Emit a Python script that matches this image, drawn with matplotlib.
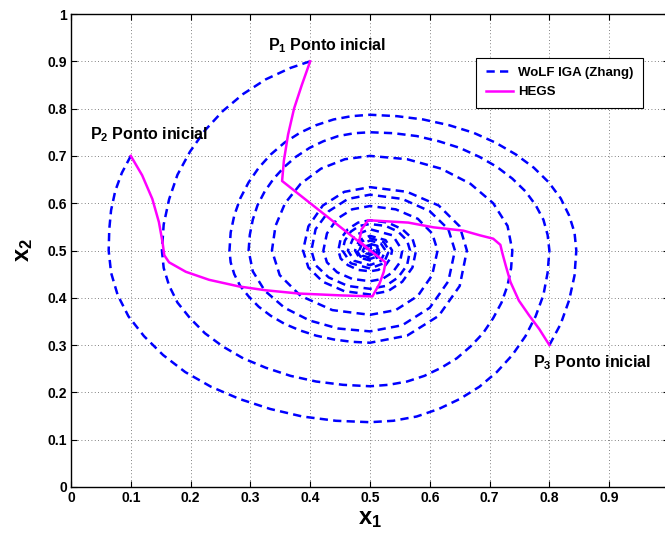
import matplotlib

matplotlib.use("Agg")  # Non-interactive backend
import matplotlib.pyplot as plt
import numpy as np

plt.rcParams["font.family"] = ["Liberation Sans", "DejaVu Sans"]
plt.rcParams["font.weight"] = "bold"
plt.rcParams["axes.labelweight"] = "bold"
plt.rcParams["mathtext.fontset"] = "custom"
plt.rcParams["mathtext.rm"] = "Liberation Sans:bold"
plt.rcParams["mathtext.it"] = "Liberation Sans:bold"
plt.rcParams["mathtext.bf"] = "Liberation Sans:bold"
plt.rcParams["mathtext.default"] = "regular"

# WoLF IGA trajectories (x1, x2)
wolf_p1 = [
    (0.400, 0.900), (0.367, 0.886), (0.326, 0.862), (0.288, 0.831), (0.254, 0.795), (0.224, 0.754),
    (0.199, 0.709), (0.178, 0.660), (0.164, 0.608), (0.155, 0.555), (0.152, 0.500),
    (0.155, 0.463), (0.164, 0.426), (0.178, 0.390), (0.199, 0.357), (0.224, 0.325), (0.254, 0.297),
    (0.288, 0.272), (0.326, 0.252), (0.367, 0.235), (0.410, 0.223), (0.455, 0.216), (0.500, 0.213),
    (0.531, 0.216), (0.562, 0.223), (0.591, 0.235), (0.619, 0.252), (0.645, 0.272), (0.668, 0.297),
    (0.689, 0.325), (0.706, 0.357), (0.720, 0.390), (0.730, 0.426), (0.736, 0.463), (0.738, 0.500),
    (0.730, 0.552), (0.706, 0.600), (0.668, 0.641), (0.619, 0.673), (0.562, 0.693), (0.500, 0.700),
    (0.458, 0.693), (0.418, 0.673), (0.384, 0.641), (0.358, 0.600), (0.342, 0.552), (0.336, 0.500),
    (0.349, 0.448), (0.384, 0.404), (0.437, 0.374), (0.500, 0.364),
    (0.543, 0.374), (0.580, 0.404), (0.604, 0.448), (0.613, 0.500),
    (0.604, 0.536), (0.580, 0.567), (0.543, 0.587), (0.500, 0.594),
    (0.470, 0.587), (0.445, 0.567), (0.428, 0.536), (0.422, 0.500),
    (0.428, 0.475), (0.445, 0.454), (0.470, 0.440), (0.500, 0.435),
    (0.521, 0.440), (0.538, 0.454), (0.550, 0.475), (0.554, 0.500),
    (0.538, 0.532), (0.500, 0.545), (0.474, 0.532), (0.463, 0.500),
    (0.474, 0.478), (0.500, 0.469), (0.518, 0.478), (0.526, 0.500),
    (0.518, 0.515), (0.500, 0.521), (0.487, 0.515), (0.482, 0.500),
    (0.487, 0.489), (0.500, 0.485), (0.509, 0.489), (0.512, 0.500),
    (0.509, 0.507), (0.500, 0.510), (0.494, 0.507), (0.492, 0.500),
    (0.494, 0.495), (0.500, 0.493), (0.504, 0.495), (0.506, 0.500), (0.500, 0.505),
]
wolf_p2 = [
    (0.100, 0.700), (0.085, 0.664), (0.074, 0.626), (0.067, 0.585), (0.064, 0.545), (0.063, 0.500),
    (0.067, 0.453), (0.078, 0.406), (0.096, 0.361), (0.122, 0.319), (0.154, 0.279), (0.191, 0.243),
    (0.234, 0.212), (0.282, 0.186), (0.333, 0.165), (0.387, 0.149), (0.443, 0.140), (0.500, 0.137),
    (0.539, 0.140), (0.578, 0.149), (0.615, 0.165), (0.650, 0.186), (0.683, 0.212), (0.712, 0.243),
    (0.738, 0.279), (0.760, 0.319), (0.777, 0.361), (0.790, 0.406), (0.797, 0.453), (0.800, 0.500),
    (0.797, 0.533), (0.790, 0.565), (0.777, 0.596), (0.760, 0.625), (0.738, 0.652), (0.712, 0.677),
    (0.683, 0.698), (0.650, 0.717), (0.615, 0.731), (0.578, 0.742), (0.539, 0.748), (0.500, 0.750),
    (0.474, 0.748), (0.447, 0.742), (0.422, 0.731), (0.399, 0.717), (0.376, 0.698), (0.357, 0.677),
    (0.339, 0.652), (0.324, 0.625), (0.312, 0.596), (0.304, 0.565), (0.299, 0.533), (0.297, 0.500),
    (0.304, 0.456), (0.324, 0.415), (0.357, 0.379), (0.399, 0.352), (0.447, 0.335), (0.500, 0.329),
    (0.554, 0.342), (0.600, 0.379), (0.631, 0.435), (0.642, 0.500),
    (0.631, 0.545), (0.600, 0.583), (0.554, 0.609), (0.500, 0.618),
    (0.463, 0.609), (0.431, 0.583), (0.409, 0.545), (0.402, 0.500),
    (0.409, 0.469), (0.431, 0.443), (0.463, 0.425), (0.500, 0.419),
    (0.526, 0.425), (0.547, 0.443), (0.562, 0.469), (0.567, 0.500),
    (0.562, 0.521), (0.547, 0.540), (0.526, 0.552), (0.500, 0.556),
    (0.482, 0.552), (0.468, 0.540), (0.458, 0.521), (0.454, 0.500),
    (0.468, 0.473), (0.500, 0.462), (0.523, 0.473), (0.532, 0.500),
    (0.523, 0.518), (0.500, 0.526), (0.484, 0.518), (0.478, 0.500),
    (0.484, 0.487), (0.500, 0.482), (0.511, 0.487), (0.515, 0.500),
    (0.511, 0.509), (0.500, 0.512), (0.493, 0.509), (0.490, 0.500),
    (0.493, 0.494), (0.500, 0.492), (0.505, 0.494), (0.507, 0.500), (0.500, 0.506),
]
wolf_p3 = [
    (0.800, 0.300), (0.819, 0.345), (0.833, 0.395), (0.842, 0.447), (0.845, 0.500),
    (0.842, 0.538), (0.833, 0.574), (0.819, 0.610), (0.799, 0.644), (0.774, 0.675), (0.744, 0.703),
    (0.710, 0.728), (0.673, 0.749), (0.632, 0.765), (0.589, 0.777), (0.545, 0.784), (0.500, 0.787),
    (0.469, 0.784), (0.439, 0.777), (0.410, 0.765), (0.383, 0.749), (0.357, 0.728), (0.334, 0.703),
    (0.314, 0.675), (0.297, 0.644), (0.283, 0.610), (0.273, 0.574), (0.267, 0.538), (0.265, 0.500),
    (0.267, 0.475), (0.273, 0.450), (0.283, 0.425), (0.297, 0.403), (0.314, 0.381), (0.334, 0.362),
    (0.357, 0.345), (0.383, 0.331), (0.410, 0.320), (0.439, 0.312), (0.469, 0.307), (0.500, 0.305),
    (0.562, 0.320), (0.615, 0.362), (0.650, 0.425), (0.662, 0.500),
    (0.650, 0.551), (0.615, 0.595), (0.562, 0.624), (0.500, 0.634),
    (0.457, 0.624), (0.421, 0.595), (0.397, 0.551), (0.388, 0.500),
    (0.397, 0.464), (0.421, 0.434), (0.457, 0.414), (0.500, 0.407),
    (0.530, 0.414), (0.554, 0.434), (0.571, 0.464), (0.577, 0.500),
    (0.571, 0.525), (0.554, 0.545), (0.530, 0.559), (0.500, 0.564),
    (0.480, 0.559), (0.463, 0.545), (0.451, 0.525), (0.447, 0.500),
    (0.451, 0.483), (0.463, 0.469), (0.480, 0.459), (0.500, 0.456),
    (0.514, 0.459), (0.526, 0.469), (0.534, 0.483), (0.537, 0.500),
    (0.526, 0.522), (0.500, 0.531), (0.482, 0.522), (0.475, 0.500),
    (0.482, 0.485), (0.500, 0.479), (0.512, 0.485), (0.517, 0.500),
    (0.512, 0.510), (0.500, 0.514), (0.492, 0.510), (0.488, 0.500),
    (0.492, 0.493), (0.500, 0.490), (0.506, 0.493), (0.508, 0.500),
    (0.506, 0.505), (0.500, 0.507),
]

# HEGS trajectories
hegs_p1 = [
    (0.400, 0.900), (0.386, 0.850), (0.373, 0.800), (0.363, 0.745), (0.356, 0.690), (0.353, 0.647),
    (0.500, 0.500),
]
hegs_p2 = [
    (0.100, 0.700), (0.119, 0.659), (0.136, 0.609), (0.147, 0.560), (0.153, 0.518), (0.156, 0.490),
    (0.164, 0.475), (0.192, 0.455), (0.231, 0.438), (0.281, 0.424), (0.325, 0.416), (0.381, 0.409),
    (0.453, 0.405), (0.504, 0.403), (0.516, 0.430), (0.523, 0.455), (0.526, 0.475), (0.500, 0.500),
]
hegs_p3 = [
    (0.800, 0.300), (0.783, 0.334), (0.766, 0.363), (0.749, 0.394), (0.735, 0.433), (0.727, 0.468),
    (0.721, 0.496), (0.718, 0.512), (0.706, 0.525), (0.684, 0.532), (0.656, 0.542), (0.606, 0.549),
    (0.564, 0.559), (0.510, 0.563), (0.497, 0.564), (0.486, 0.545), (0.482, 0.520), (0.500, 0.500),
]

start_labels = [r"P$_1$ Ponto inicial", r"P$_2$ Ponto inicial", r"P$_3$ Ponto inicial"]
label_pos = [(0.330, 0.924), (0.031, 0.736), (0.772, 0.253)]

fig = plt.figure(figsize=(6.65, 5.38), dpi=100)
ax = fig.add_axes([71 / 665, 51 / 538, 598 / 665, 473 / 538])

for i, pts in enumerate([wolf_p1, wolf_p2, wolf_p3]):
    xs, ys = zip(*pts)
    ax.plot(xs, ys, color="#0000ff", lw=1.8, ls=(0, (3.3, 2.1)),
            label="WoLF IGA (Zhang)" if i == 0 else None)

for i, pts in enumerate([hegs_p1, hegs_p2, hegs_p3]):
    xs, ys = zip(*pts)
    ax.plot(xs, ys, color="#ff00ff", lw=1.8,
            label="HEGS" if i == 0 else None)

for txt, (tx, ty) in zip(start_labels, label_pos):
    ax.text(tx, ty, txt, fontsize=11.5, va="baseline", ha="left")

ax.set_xlim(0, 1)
ax.set_ylim(0, 1)
ticks = np.arange(0, 1.01, 0.1)
ax.set_xticks(ticks)
ax.set_yticks(ticks)
# the x=1 label falls outside the saved picture, as in the original
ax.set_xticklabels([f"{t:g}" if t < 0.95 else "" for t in ticks])
ax.set_yticklabels([f"{t:g}" for t in ticks])
ax.tick_params(direction="in", length=4, top=True, right=True, labelsize=10, pad=3, width=0.8)
ax.grid(True, ls=(0, (1, 3)), color="0.35", lw=0.6)
for sp in ax.spines.values():
    sp.set_linewidth(1.0)

ax.set_xlabel(r"x$_1$", fontsize=17, fontweight="bold", labelpad=1)
ax.set_ylabel(r"x$_2$", fontsize=17, fontweight="bold", labelpad=9)

leg = ax.legend(loc="upper left", bbox_to_anchor=(0.678, 0.908), borderaxespad=0,
                fancybox=False, edgecolor="black", framealpha=1, fontsize=9.5,
                handlelength=2.1, handletextpad=0.35, borderpad=0.7, labelspacing=0.55)
leg.get_frame().set_linewidth(0.8)

fig.savefig("out.png", dpi=100)
print("Saved out.png")
